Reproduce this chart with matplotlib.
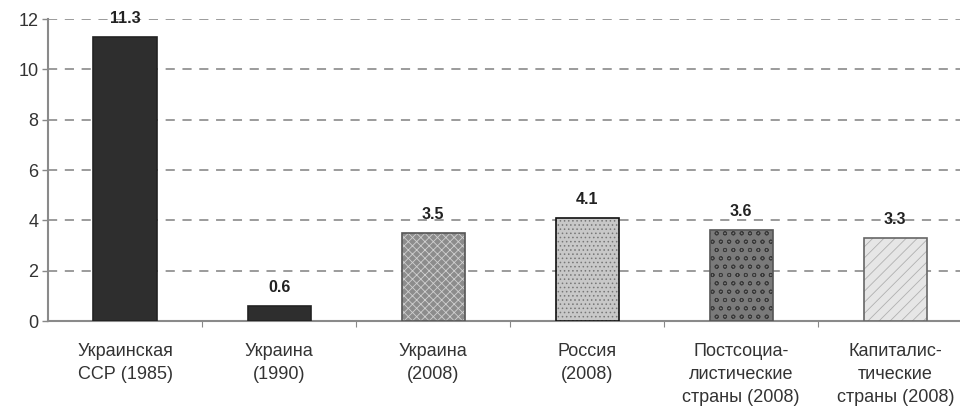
import matplotlib.pyplot as plt

plt.rcParams['font.family'] = ['Liberation Sans', 'DejaVu Sans']
plt.rcParams['hatch.linewidth'] = 0.6

# Data
categories = [
    "Украинская\nССР (1985)",
    "Украина\n(1990)",
    "Украина\n(2008)",
    "Россия\n(2008)",
    "Постсоциа-\nлистические\nстраны (2008)",
    "Капиталис-\nтические\nстраны (2008)",
]
values = [11.3, 0.6, 3.5, 4.1, 3.6, 3.3]
value_labels = ["11.3", "0.6", "3.5", "4.1", "3.6", "3.3"]

# Bar styles
face_colors = ["#2e2e2e", "#2e2e2e", "#8c8c8c", "#c8c8c8", "#7a7a7a", "#e6e6e6"]
hatch_colors = ["#2e2e2e", "#2e2e2e", "#d0d0d0", "#777777", "#3a3a3a", "#b0b0b0"]
hatches = [None, None, "xxxx", "....", "oo", "///"]
edge_colors = ["#222222", "#222222", "#555555", "#111111", "#555555", "#666666"]

fig = plt.figure(figsize=(9.6, 4.09), dpi=100)
ax = fig.add_axes([0.05, 0.215, 0.95, 0.7385])

x = list(range(len(categories)))
for i in x:
    # hatch layer drawn in its own colour, outline drawn on top
    ax.bar(i, values[i], width=0.41, color=face_colors[i], hatch=hatches[i],
           edgecolor=hatch_colors[i], linewidth=0, zorder=3)
    ax.bar(i, values[i], width=0.41, fill=False,
           edgecolor=edge_colors[i], linewidth=1.2, zorder=4)
    ax.annotate(value_labels[i], (i, values[i]), xytext=(0, 8),
                textcoords="offset points", ha="center", va="bottom",
                fontsize=11.5, fontweight="bold", color="#222222", zorder=5)

ax.set_ylim(0, 12)
ax.set_xlim(-0.5, 5.42)
ax.set_yticks(range(0, 13, 2))
ax.tick_params(axis="y", labelsize=13, labelcolor="#333333", length=4,
               width=1, pad=3, color="#888888")

# category labels between the boundary ticks
ax.set_xticks([i + 0.5 for i in x[:-1]])
ax.set_xticklabels([])
ax.set_xticks(x, minor=True)
ax.set_xticklabels(categories, minor=True, fontsize=13, color="#333333",
                   linespacing=1.45)
ax.tick_params(axis="x", which="major", length=4, color="#888888")
ax.tick_params(axis="x", which="minor", length=0, pad=16)

ax.yaxis.grid(True, linestyle=(0, (6, 5)), color="#808080", linewidth=1.1,
              zorder=0)
ax.set_axisbelow(True)

for side in ["top", "right"]:
    ax.spines[side].set_visible(False)
for side in ["left", "bottom"]:
    ax.spines[side].set_color("#8a8a8a")
    ax.spines[side].set_linewidth(1.5)

fig.savefig("out.png", dpi=100)
